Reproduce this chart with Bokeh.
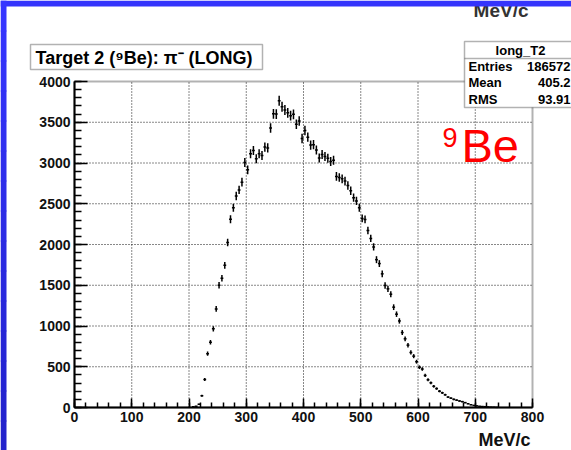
import numpy as np
from bokeh.plotting import figure
from bokeh.models import (Label, BoxAnnotation, SingleIntervalTicker, Range1d,
                          ColumnDataSource, LinearAxis)
from bokeh.embed import file_html
from bokeh.resources import INLINE

# ---------------- data ----------------
bin_centers = [207.5, 212.5, 217.5, 222.5, 227.5, 232.5, 237.5, 242.5, 247.5, 252.5,
               257.5, 262.5, 267.5, 272.5, 277.5, 282.5, 287.5, 292.5, 297.5, 302.5,
               307.5, 312.5, 317.5, 322.5, 327.5, 332.5, 337.5, 342.5, 347.5, 352.5,
               357.5, 362.5, 367.5, 372.5, 377.5, 382.5, 387.5, 392.5, 397.5, 402.5,
               407.5, 412.5, 417.5, 422.5, 427.5, 432.5, 437.5, 442.5, 447.5, 452.5,
               457.5, 462.5, 467.5, 472.5, 477.5, 482.5, 487.5, 492.5, 497.5, 502.5,
               507.5, 512.5, 517.5, 522.5, 527.5, 532.5, 537.5, 542.5, 547.5, 552.5,
               557.5, 562.5, 567.5, 572.5, 577.5, 582.5, 587.5, 592.5, 597.5, 602.5,
               607.5, 612.5, 617.5, 622.5, 627.5, 632.5, 637.5, 642.5, 647.5, 652.5,
               657.5, 662.5, 667.5, 672.5, 677.5, 682.5, 687.5, 692.5, 697.5, 702.5,
               707.5, 712.5, 717.5, 722.5, 727.5, 732.5, 737.5]
counts = [8, 15, 40, 143, 343, 660, 800, 965, 1210, 1500,
          1585, 1745, 2025, 2310, 2452, 2595, 2670, 2765, 3005, 2916,
          3113, 3153, 3051, 3113, 3092, 3195, 3185, 3430, 3603, 3600,
          3763, 3690, 3650, 3616, 3580, 3597, 3475, 3515, 3300, 3400,
          3317, 3220, 3225, 3160, 3060, 3105, 3080, 3059, 3018, 3035,
          2835, 2822, 2806, 2778, 2725, 2660, 2575, 2535, 2450, 2320,
          2308, 2172, 2075, 1970, 1814, 1766, 1640, 1497, 1456, 1390,
          1231, 1145, 1062, 920, 843, 765, 675, 630, 562, 494,
          472, 393, 340, 303, 260, 232, 200, 180, 156, 128,
          114, 100, 90, 80, 72, 60, 46, 34, 26, 20,
          15, 12, 10, 7, 5, 4, 2]
bin_width = 5.0

x_lim = [0, 800]
y_lim = [0, 4000]
x_grid_ticks = [100, 200, 300, 400, 500, 600, 700]
y_grid_ticks = [500, 1000, 1500, 2000, 2500, 3000, 3500]

title_text = "Target 2 (\u2079Be): \u03c0\u207b (LONG)"
stats_name = "long_T2"
stats_labels = ["Entries", "Mean", "RMS"]
stats_values = ["186572", "405.2", "93.91"]
x_label = "MeV/c"

# ---------------- layout (pixels) ----------------
W, H = 571, 450
FL, FR, FT, FB = 74, 532, 81, 407      # plot frame edges on the page
ux = (x_lim[1] - x_lim[0]) / (FR - FL)
uy = (y_lim[1] - y_lim[0]) / (FB - FT)
xr = Range1d(x_lim[0] - FL * ux, x_lim[1] + (W - FR) * ux)
yr = Range1d(y_lim[0] - (H - FB) * uy, y_lim[1] + FT * uy)

x = np.array(bin_centers)
c = np.array(counts, dtype=float)
err = np.sqrt(c)
src = ColumnDataSource(dict(x=x, c=c, lo=c - err, hi=c + err,
                            xl=x - bin_width / 2, xr=x + bin_width / 2))

p = figure(width=W, height=H, x_range=xr, y_range=yr,
           x_axis_location=None, y_axis_location=None,
           toolbar_location=None, output_backend="svg", min_border=0)
p.border_fill_color = "white"
p.background_fill_color = "white"
p.outline_line_color = None
p.xgrid.visible = False
p.ygrid.visible = False

# axes, fixed at the frame's lower left edges
xaxis = LinearAxis(fixed_location=y_lim[0], bounds=(x_lim[0], x_lim[1]),
                   ticker=SingleIntervalTicker(interval=100, num_minor_ticks=5))
yaxis = LinearAxis(fixed_location=x_lim[0], bounds=(y_lim[0], y_lim[1]),
                   ticker=SingleIntervalTicker(interval=500, num_minor_ticks=5))
for ax in (xaxis, yaxis):
    ax.major_label_text_font = "Liberation Sans"
    ax.major_label_text_font_style = "bold"
    ax.major_label_text_font_size = "14px"
    ax.major_label_text_color = "#111111"
    ax.axis_line_width = 2
    ax.axis_line_color = "black"
    ax.major_tick_out = 0
    ax.minor_tick_out = 0
    ax.major_tick_line_width = 1.5
    ax.minor_tick_line_width = 1.5
    ax.major_tick_line_color = "black"
    ax.minor_tick_line_color = "black"
    ax.major_label_standoff = 4
yaxis.major_tick_in = 13
yaxis.minor_tick_in = 7
xaxis.major_tick_in = 9
xaxis.minor_tick_in = 5
p.add_layout(xaxis, "below")
p.add_layout(yaxis, "left")

# dotted grid
p.segment(x0=x_grid_ticks, y0=[y_lim[0]] * len(x_grid_ticks),
          x1=x_grid_ticks, y1=[y_lim[1]] * len(x_grid_ticks),
          line_color="#111111", line_dash="1 2", line_width=1)
p.segment(x0=[x_lim[0]] * len(y_grid_ticks), y0=y_grid_ticks,
          x1=[x_lim[1]] * len(y_grid_ticks), y1=y_grid_ticks,
          line_color="#111111", line_dash="1 2", line_width=1)

# data: error crosses
p.segment(x0="x", y0="lo", x1="x", y1="hi", source=src, line_color="black", line_width=1.5)
p.segment(x0="xl", y0="c", x1="xr", y1="c", source=src, line_color="black", line_width=1.5)

# frame
p.add_layout(BoxAnnotation(left=x_lim[0], right=x_lim[1], bottom=y_lim[0], top=y_lim[1],
                           fill_color=None, line_color="black", line_width=2))

U = "canvas"   # canvas pixels, y measured from the top

def sbox(l, r, t, b, fill="white", line="black", lw=1.5):
    return BoxAnnotation(left=l, right=r, top=t, bottom=b,
                         left_units=U, right_units=U, top_units=U, bottom_units=U,
                         fill_color=fill, fill_alpha=1.0, line_color=line, line_width=lw)

def slabel(xp, yp, text, size, bold=False, color="black", align="left"):
    return Label(x=xp, y=yp, x_units=U, y_units=U, text=text,
                 text_font="Liberation Sans", text_font_size=size,
                 text_font_style="bold" if bold else "normal", text_color=color,
                 text_align=align, text_baseline="middle")

# top cut MeV/c (from the previous slide)
p.add_layout(slabel(528, 10, x_label, "19px", bold=True, color="#333333", align="right"))

# title box
p.add_layout(sbox(30, 262, 44, 69))
p.add_layout(slabel(35, 57, title_text, "18px", bold=True))

# stats box
p.add_layout(sbox(464, 578, 41, 107))
p.add_layout(sbox(464, 578, 58, 58, fill=None))
p.add_layout(slabel(520, 50, stats_name, "13px", bold=True, align="center"))
for i, (lab, val) in enumerate(zip(stats_labels, stats_values)):
    yy = 65.5 + i * 16.7
    p.add_layout(slabel(468, yy, lab, "13px", bold=True))
    p.add_layout(slabel(570, yy, val, "13px", bold=True, align="right"))

# 9Be
p.add_layout(slabel(442, 137, "9", "27px", color="#ff0000"))
p.add_layout(slabel(461, 145, "Be", "47px", color="#ff0000"))

# x axis label
p.add_layout(slabel(530, 439.5, x_label, "18px", bold=True, color="#111111", align="right"))

# slide background strips
p.add_layout(sbox(0, W, 0, 6, fill="#3434fc", line=None, lw=0))
n = 15
for i in range(n):
    t = i / (n - 1)
    r = int(0x36 + (0x22 - 0x36) * t)
    g = int(0x36 + (0x22 - 0x36) * t)
    b = int(0xff + (0xcc - 0xff) * t)
    col = "#%02x%02x%02x" % (r, g, b)
    p.add_layout(sbox(0, 6, i * H / n, (i + 1) * H / n + 1, fill=col, line=None, lw=0))

open("out.html", "w").write(file_html(p, INLINE))
